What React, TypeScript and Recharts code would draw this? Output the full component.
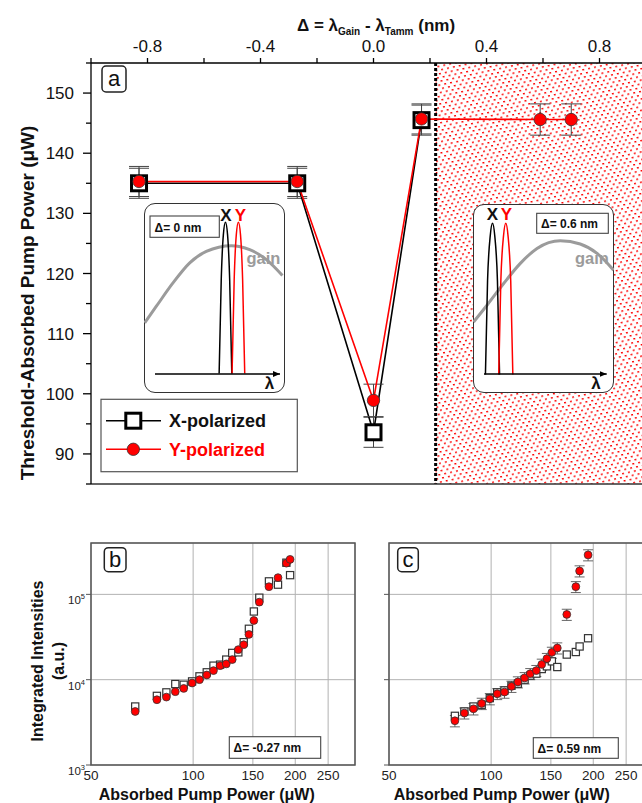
import React from 'react'
import {
  ComposedChart,
  LineChart,
  ScatterChart,
  Line,
  Scatter,
  XAxis,
  YAxis,
  CartesianGrid,
  ReferenceArea,
  ReferenceLine,
  ErrorBar,
} from 'recharts'

const FONT = '"Liberation Sans", Arial, Helvetica, sans-serif'

// panel a: lasing threshold vs detuning
const detuning = [-0.83, -0.27, 0, 0.17, 0.59, 0.7]
const thresholdX = [135.0, 135.0, 93.6, 145.5, null, null]
const thresholdY = [135.3, 135.3, 98.9, 145.7, 145.6, 145.6]
const thresholdXErr = [2.5, 2.5, 2.5, 2.5, null, null]
const thresholdYErr = [2.5, 2.5, 2.7, 2.5, 2.6, 2.6]
const detuningTicks = [-1, -0.8, -0.6, -0.4, -0.2, 0, 0.2, 0.4, 0.6, 0.8, 1]
const detuningLabels = [-0.8, -0.4, 0, 0.4, 0.8]
const thresholdTicks = [85, 90, 95, 100, 105, 110, 115, 120, 125, 130, 135, 140, 145, 150, 155]
const thresholdLabels = [90, 100, 110, 120, 130, 140, 150]
const hatchFrom = 0.22

// insets: [lambda (arb.), intensity (norm.)]
const inset0Gain = [[0.5, 0.335], [8.8, 0.445], [20.6, 0.599], [32.5, 0.732], [44.3, 0.808], [62.1, 0.846], [75.1, 0.82], [87.0, 0.753], [98.4, 0.648]]
const inset0PeakX = [[53.4, 0], [54.9, 0.62], [56.4, 0.917], [57.9, 1], [59.4, 0.917], [60.9, 0.62], [62.4, 0]]
const inset0PeakY = [[62.6, 0], [64.1, 0.62], [65.6, 0.917], [67.1, 1], [68.6, 0.917], [70.1, 0.62], [71.6, 0]]
const inset1Gain = [[0.4, 0.347], [9.9, 0.458], [21.7, 0.602], [33.5, 0.735], [45.3, 0.834], [61.8, 0.885], [75.9, 0.863], [87.8, 0.801], [99.5, 0.69]]
const inset1PeakX = [[8.8, 0], [10.3, 0.62], [12.2, 0.917], [13.8, 1], [15.4, 0.917], [17.3, 0.62], [18.8, 0]]
const inset1PeakY = [[18.2, 0], [19.7, 0.62], [21.6, 0.917], [23.2, 1], [24.8, 0.917], [26.7, 0.62], [28.2, 0]]

// panel b: delta = -0.27 nm
const powerB = [67.5, 78.2, 83.4, 88.6, 93.8, 99.3, 104.4, 109.7, 114.8, 120.1, 125.2, 130.4, 135.9, 141, 146, 151, 156.7, 167.3, 177.9, 188.3, 193.1]
const intensityBX = [4850, 6460, 7100, 8890, 8730, 9550, 10940, 12200, 14600, 15000, 17200, 20600, 20900, 27500, 39500, 63000, 91400, 142000, 130000, 235000, 168000]
const intensityBY = [4240, 5820, 6250, 7230, 7900, 9140, 10000, 11350, 12770, 14600, 15300, 17200, 22500, 25700, 33900, 49400, 81100, 123000, 157000, 232000, 257000]

// panel c: delta = 0.59 nm
const powerC = [78.2, 83.4, 88.7, 93.8, 99.1, 104.2, 109.5, 114.8, 119.9, 125.5, 130.4, 135.9, 141, 146, 151, 156.7, 167.1, 177.7, 182.3, 193.1]
const intensityCX = [3770, 4240, 4850, 5080, 6080, 7100, 7480, 8490, 8970, 10000, 11150, 11780, 13330, 14340, 16400, 14070, 19700, 21100, 24500, 30600]
const intensityCY = [3300, 4060, 4560, 5260, 5970, 6840, 7160, 8340, 9400, 10500, 11750, 12770, 15100, 17650, 20900, 23500, 58200, 123000, 188000, 290000]
const intensityCYErr = [500, 600, 700, 800, 900, 1000, 1100, 1250, 1400, 1600, 1750, 1900, 2300, 2650, 3100, 3500, 8700, 18000, 28000, 43000]

const powerTicks = [50, 100, 150, 200, 250]
const intensityTicks = [1000, 10000, 100000]

const panelAData = detuning.map((d, k) => ({
  d,
  x: thresholdX[k],
  y: thresholdY[k],
  xe: thresholdXErr[k],
  ye: thresholdYErr[k],
}))

const TopTick = (props: any) => {
  const v = props.payload.value
  const major = detuningLabels.some((l) => Math.abs(l - v) < 1e-6)
  return (
    <g>
      <line x1={props.x} x2={props.x} y1={63} y2={58} stroke="#000" strokeWidth={1.3} />
      {major && (
        <text x={props.x} y={52} textAnchor="middle" fontSize={17} fontFamily={FONT} fill="#111">
          {v.toFixed(1)}
        </text>
      )}
    </g>
  )
}

const LeftTick = (props: any) => {
  const v = props.payload.value
  const major = thresholdLabels.includes(v)
  return (
    <g>
      <line x1={91} x2={major ? 83 : 86} y1={props.y} y2={props.y} stroke="#000" strokeWidth={1.3} />
      {major && (
        <text x={74} y={props.y + 6} textAnchor="end" fontSize={17} fontFamily={FONT} fill="#111">
          {v}
        </text>
      )}
    </g>
  )
}

const PowerTick = (props: any) => (
  <text x={props.x} y={242} textAnchor="middle" fontSize={13.5} fontFamily={FONT} fill="#222">
    {props.payload.value}
  </text>
)

const makeIntensityTick = (showLabel: boolean) => (props: any) => {
  const exp = Math.round(Math.log10(props.payload.value))
  return (
    <g>
      <line x1={91} x2={86} y1={props.y} y2={props.y} stroke="#555" strokeWidth={1} />
      {showLabel && (
        <text x={85} y={props.y + 10} textAnchor="end" fontSize={11.5} fontFamily={FONT} fill="#222">
          10<tspan fontSize={7.5} dy={-5}>{exp}</tspan>
        </text>
      )}
    </g>
  )
}

const squareDot = (p: any) => {
  if (p.cy == null || p.value == null) return <g key={`sq-${p.index}`} />
  return (
    <rect key={`sq-${p.index}`} x={p.cx - 7.5} y={p.cy - 7.5} width={15} height={15} fill="#fff" stroke="#000" strokeWidth={3} />
  )
}

const circleDot = (p: any) => {
  if (p.cy == null || p.value == null) return <g key={`ci-${p.index}`} />
  return <circle key={`ci-${p.index}`} cx={p.cx} cy={p.cy} r={6.2} fill="#f00" stroke="#333" strokeWidth={0.8} />
}

const smallSquare = (p: any) => (
  <rect x={p.cx - 3.6} y={p.cy - 3.6} width={7.2} height={7.2} fill="#fff" stroke="#333" strokeWidth={1.2} />
)

const smallCircle = (p: any) => (
  <circle cx={p.cx} cy={p.cy} r={3.9} fill="#f00" stroke="#333" strokeWidth={0.8} />
)

const rows = (pts: number[][]) => pts.map(([l, v]) => ({ l, v }))

function Inset({ left, top, width, height, gain, peakX, peakY }: any) {
  return (
    <div style={{ position: 'absolute', left, top, width, height }}>
      <div
        style={{
          position: 'absolute',
          left: 0,
          top: 0,
          width,
          height,
          background: '#fff',
          border: '1.5px solid #333',
          borderRadius: 11,
          boxSizing: 'border-box',
        }}
      />
      <div style={{ position: 'absolute', left: 0, top: 0 }}>
        <LineChart width={width} height={height} margin={{ top: 0, right: 0, bottom: 0, left: 0 }}>
          <XAxis type="number" dataKey="l" domain={[0, 100]} hide allowDataOverflow />
          <YAxis type="number" domain={[-0.125, 1.128]} hide allowDataOverflow />
          <Line data={rows(gain)} dataKey="v" type="monotone" stroke="#9b9b9b" strokeWidth={3} dot={false} isAnimationActive={false} />
          <Line data={rows(peakX)} dataKey="v" type="monotone" stroke="#000" strokeWidth={1.5} dot={false} isAnimationActive={false} />
          <Line data={rows(peakY)} dataKey="v" type="monotone" stroke="#f00" strokeWidth={1.5} dot={false} isAnimationActive={false} />
        </LineChart>
      </div>
    </div>
  )
}

function PowerPanel({ left, squares, circles, showLabels, errors }: any) {
  return (
    <div style={{ position: 'absolute', left, top: 538 }}>
      <ScatterChart width={358} height={262} margin={{ top: 5, right: 3, bottom: 0, left: 0 }}>
        <CartesianGrid stroke="#b2b2b2" strokeWidth={1} />
        <XAxis
          type="number"
          dataKey="p"
          scale="log"
          domain={[50, 300]}
          ticks={powerTicks}
          interval={0}
          allowDataOverflow
          axisLine={false}
          tickLine={false}
          height={35}
          tick={<PowerTick />}
        />
        <YAxis
          type="number"
          dataKey="v"
          scale="log"
          domain={[1000, 400000]}
          ticks={intensityTicks}
          interval={0}
          allowDataOverflow
          axisLine={false}
          tickLine={false}
          width={91}
          tick={makeIntensityTick(showLabels)}
        />
        <ReferenceArea x1={50} x2={300} y1={1000} y2={400000} fill="none" fillOpacity={0} stroke="#555" strokeWidth={1.5} />
        <Scatter data={squares} shape={smallSquare} isAnimationActive={false} />
        <Scatter data={circles} shape={smallCircle} isAnimationActive={false}>
          {errors && <ErrorBar dataKey="e" direction="y" width={5} stroke="#555" strokeWidth={0.9} />}
        </Scatter>
      </ScatterChart>
    </div>
  )
}

const txt = { fontFamily: FONT }

export default function App() {
  const bSquares = powerB.map((p, k) => ({ p, v: intensityBX[k] }))
  const bCircles = powerB.map((p, k) => ({ p, v: intensityBY[k] }))
  const cSquares = powerC.map((p, k) => ({ p, v: intensityCX[k] }))
  const cCircles = powerC.map((p, k) => ({ p, v: intensityCY[k], e: intensityCYErr[k] }))

  return (
    <div style={{ position: 'absolute', left: 0, top: 0, width: 642, height: 803, overflow: 'hidden', background: '#fff' }}>
      <div style={{ position: 'absolute', left: 0, top: 0 }}>
        <ComposedChart width={660} height={485} data={panelAData} margin={{ top: 0, right: 4, bottom: 1, left: 0 }}>
          <defs>
            <pattern id="redDots" width="6" height="7.4" patternUnits="userSpaceOnUse" patternTransform="rotate(-12)">
              <rect width="6" height="7.4" fill="#fff" />
              <rect x="0" y="0" width="2" height="1.4" fill="#ff0000" />
              <rect x="3" y="3.7" width="2" height="1.4" fill="#ff0000" />
            </pattern>
          </defs>
          <XAxis
            type="number"
            dataKey="d"
            orientation="top"
            domain={[-1, 1]}
            ticks={detuningTicks}
            interval={0}
            height={63}
            axisLine={{ stroke: '#000', strokeWidth: 1.3 }}
            tickLine={false}
            tick={<TopTick />}
          />
          <YAxis
            type="number"
            domain={[85, 155]}
            ticks={thresholdTicks}
            interval={0}
            width={91}
            axisLine={{ stroke: '#000', strokeWidth: 1.3 }}
            tickLine={false}
            tick={<LeftTick />}
          />
          <ReferenceArea x1={hatchFrom} x2={1} y1={85} y2={155} fill="url(#redDots)" fillOpacity={1} stroke="none" />
          <ReferenceLine x={hatchFrom} stroke="#000" strokeWidth={3} strokeDasharray="3 2" />
          <ReferenceLine y={85} stroke="#333" strokeWidth={1.3} />
          <Line dataKey="x" type="linear" stroke="#000" strokeWidth={1.6} dot={squareDot} isAnimationActive={false}>
            <ErrorBar dataKey="xe" direction="y" width={10} stroke="#444" strokeWidth={1} />
          </Line>
          <Line dataKey="y" type="linear" stroke="#f00" strokeWidth={1.6} dot={circleDot} isAnimationActive={false}>
            <ErrorBar dataKey="ye" direction="y" width={10} stroke="#444" strokeWidth={1} />
          </Line>
        </ComposedChart>
      </div>

      <Inset left={144.3} top={203.3} width={140.7} height={189.4} gain={inset0Gain} peakX={inset0PeakX} peakY={inset0PeakY} />
      <Inset left={472.7} top={204} width={141.3} height={189.3} gain={inset1Gain} peakX={inset1PeakX} peakY={inset1PeakY} />

      <PowerPanel left={0} squares={bSquares} circles={bCircles} showLabels={true} errors={false} />
      <PowerPanel left={298} squares={cSquares} circles={cCircles} showLabels={false} errors={true} />

      <svg width={642} height={803} style={{ position: 'absolute', left: 0, top: 0, pointerEvents: 'none' }}>
        <defs>
          <marker id="arr" markerWidth="8" markerHeight="8" refX="7" refY="4" orient="auto" markerUnits="userSpaceOnUse">
            <path d="M0,1 L7,4 L0,7 Z" fill="#000" />
          </marker>
        </defs>

        {/* panel a titles */}
        <text x={376} y={31} textAnchor="middle" fontSize={17} fontWeight="bold" fill="#111" style={txt}>
          Δ =  λ<tspan fontSize={10} dy={4}>Gain</tspan>
          <tspan dy={-4}> - λ</tspan>
          <tspan fontSize={10} dy={4}>Tamm</tspan>
          <tspan dy={-4}> (nm)</tspan>
        </text>
        <text
          x={27}
          y={303}
          textAnchor="middle"
          dominantBaseline="central"
          fontSize={19}
          fontWeight="bold"
          fill="#111"
          transform="rotate(-90 27 303)"
          style={txt}
        >
          Threshold-Absorbed Pump Power (μW)
        </text>

        <rect x={102} y={66} width={24} height={26} rx={4} fill="#fff" stroke="#222" strokeWidth={1.5} />
        <text x={114} y={86} textAnchor="middle" fontSize={22} fill="#111" style={txt}>a</text>

        {/* legend */}
        <rect x={101} y={399.3} width={196.3} height={72.4} fill="#fff" stroke="#555" strokeWidth={1.2} />
        <line x1={106} x2={161} y1={420.7} y2={420.7} stroke="#000" strokeWidth={1.5} />
        <rect x={125.8} y={413.2} width={15} height={15} fill="#fff" stroke="#000" strokeWidth={3} />
        <text x={169} y={427} fontSize={18} fontWeight="bold" fill="#111" style={txt}>X-polarized</text>
        <line x1={106} x2={161} y1={449.3} y2={449.3} stroke="#f00" strokeWidth={1.5} />
        <circle cx={133.3} cy={449.3} r={6.2} fill="#f00" stroke="#333" strokeWidth={0.8} />
        <text x={169} y={455.5} fontSize={18} fontWeight="bold" fill="#f00" style={txt}>Y-polarized</text>

        {/* inset 1 decorations */}
        <line x1={155} x2={280} y1={374} y2={374} stroke="#000" strokeWidth={1.3} markerEnd="url(#arr)" />
        <text x={269.5} y={389} textAnchor="middle" fontSize={17} fontWeight="bold" fill="#111" style={txt}>λ</text>
        <text x={226} y={221} textAnchor="middle" fontSize={17} fontWeight="bold" fill="#111" style={txt}>X</text>
        <text x={240.5} y={221} textAnchor="middle" fontSize={17} fontWeight="bold" fill="#f00" style={txt}>Y</text>
        <text x={246.5} y={264} fontSize={16.5} fontWeight="bold" fill="#9b9b9b" style={txt}>gain</text>
        <rect x={150} y={216} width={69.3} height={21.3} fill="#fff" stroke="#444" strokeWidth={1.1} />
        <text x={154.5} y={231.5} fontSize={12} fontWeight="bold" fill="#111" style={txt}>Δ= 0 nm</text>

        {/* inset 2 decorations */}
        <line x1={484} x2={606.7} y1={374} y2={374} stroke="#000" strokeWidth={1.3} markerEnd="url(#arr)" />
        <text x={596} y={389} textAnchor="middle" fontSize={17} fontWeight="bold" fill="#111" style={txt}>λ</text>
        <text x={492.3} y={220} textAnchor="middle" fontSize={17} fontWeight="bold" fill="#111" style={txt}>X</text>
        <text x={506.5} y={220} textAnchor="middle" fontSize={17} fontWeight="bold" fill="#f00" style={txt}>Y</text>
        <text x={575} y={264} fontSize={16.5} fontWeight="bold" fill="#9b9b9b" style={txt}>gain</text>
        <rect x={536.7} y={213.3} width={71.6} height={20} fill="#fff" stroke="#444" strokeWidth={1.1} />
        <text x={541} y={228} fontSize={12} fontWeight="bold" fill="#111" style={txt}>Δ= 0.6 nm</text>

        {/* panels b, c */}
        <rect x={104.3} y={547.7} width={21.7} height={24} rx={4} fill="#fff" stroke="#222" strokeWidth={1.5} />
        <text x={115.2} y={567} textAnchor="middle" fontSize={22} fill="#111" style={txt}>b</text>
        <rect x={397.7} y={547.7} width={20.6} height={24} rx={4} fill="#fff" stroke="#222" strokeWidth={1.5} />
        <text x={408} y={567} textAnchor="middle" fontSize={22} fill="#111" style={txt}>c</text>

        <rect x={229.3} y={736.7} width={91.4} height={21.6} fill="#fff" stroke="#444" strokeWidth={1.1} />
        <text x={233.5} y={752} fontSize={12} fontWeight="bold" fill="#111" style={txt}>Δ= -0.27 nm</text>
        <rect x={533.3} y={737.7} width={85} height={20.6} fill="#fff" stroke="#444" strokeWidth={1.1} />
        <text x={537.5} y={752.5} fontSize={12} fontWeight="bold" fill="#111" style={txt}>Δ= 0.59 nm</text>

        <text
          x={37}
          y={661}
          textAnchor="middle"
          dominantBaseline="central"
          fontSize={16}
          fontWeight="bold"
          fill="#111"
          transform="rotate(-90 37 661)"
          style={txt}
        >
          Integrated Intensities
        </text>
        <text
          x={58.5}
          y={661}
          textAnchor="middle"
          dominantBaseline="central"
          fontSize={16}
          fontWeight="bold"
          fill="#111"
          transform="rotate(-90 58.5 661)"
          style={txt}
        >
          (a.u.)
        </text>

        <text x={206.7} y={800} textAnchor="middle" fontSize={16} fontWeight="bold" fill="#111" style={txt}>
          Absorbed Pump Power (μW)
        </text>
        <text x={501.7} y={800} textAnchor="middle" fontSize={16} fontWeight="bold" fill="#111" style={txt}>
          Absorbed Pump Power (μW)
        </text>
      </svg>
    </div>
  )
}
